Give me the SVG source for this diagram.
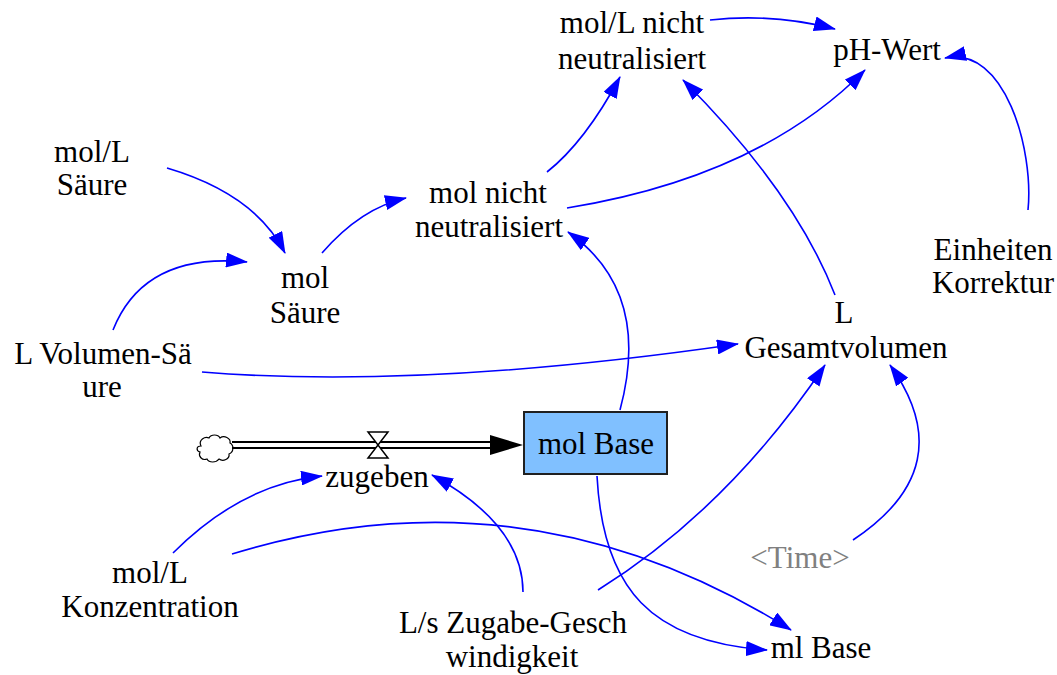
<svg xmlns="http://www.w3.org/2000/svg" width="1057" height="675" viewBox="0 0 1057 675">
  <style>
    .lbl { font-family: "Liberation Serif", "Times New Roman", "DejaVu Serif", serif; font-size: 31px; fill: #000; text-anchor: middle; }
    .shadow { fill: #808080; }
    .link { fill: none; stroke: #0000ff; stroke-width: 1.6; marker-end: url(#head); }
    .pipe { stroke: #000; stroke-width: 2; fill: none; }
  </style>
  <defs>
    <marker id="head" viewBox="0 0 22 15" markerWidth="22" markerHeight="15" refX="21" refY="7.5" orient="auto" markerUnits="userSpaceOnUse">
      <path d="M0,0 L22,7.5 L0,15 Z" fill="#0000ff"/>
    </marker>
  </defs>
  <rect width="1057" height="675" fill="#fff"/>

  <!-- causal links -->
  <g id="connectors">
    <path class="link" d="M710,20 Q773,13 835,29"/>
    <path class="link" d="M1028,210 C1034,150 1005,45 945,58"/>
    <path class="link" d="M547,172 Q585,142 620,77"/>
    <path class="link" d="M835,295 Q795,192 683,80"/>
    <path class="link" d="M567,208 Q759,177 865,70"/>
    <path class="link" d="M167,168 Q255,194 285,253"/>
    <path class="link" d="M113,330 Q144,252 247,262"/>
    <path class="link" d="M322,253 Q361,208 406,198"/>
    <path class="link" d="M620,410 Q652,291 568,232"/>
    <path class="link" d="M202,372 Q420,390 738,344"/>
    <path class="link" d="M173,553 Q242,484 322,476"/>
    <path class="link" d="M523,592 Q523,525 432,475"/>
    <path class="link" d="M232,554 Q526,464 791,630"/>
    <path class="link" d="M598,590 Q728,509 825,365"/>
    <path class="link" d="M853,540 Q963,467 890,365"/>
    <path class="link" d="M597,476 C603,590 652,642 767,650"/>
  </g>

  <!-- inflow pipe with valve -->
  <g id="flow-zugeben">
    <path id="source-cloud" d="M201,446 c-3,-6 4,-10 8,-8 c2,-4 9,-4 11,0 c4,-3 11,0 10,5 c4,2 4,9 -1,11 c1,5 -6,8 -10,5 c-3,4 -10,4 -12,0 c-5,2 -9,-3 -7,-7 c-4,-1 -4,-6 1,-6 z" fill="#fff" stroke="#000" stroke-width="1.2"/>
    <path class="pipe" d="M232,442 H492 M232,448 H492"/>
    <polygon points="490,435 523,445 490,455" fill="#000"/>
    <path d="M368,432 H388 L368,458 H388 Z" fill="#fff" stroke="#000" stroke-width="1.5"/>
    <text class="lbl" x="377" y="487">zugeben</text>
  </g>

  <g id="mol-base">
    <rect x="524" y="412" width="143" height="62" fill="#80c0ff" stroke="#202020" stroke-width="2"/>
    <text class="lbl" x="596" y="454">mol Base</text>
  </g>

  <g id="mol-l-nicht-neutralisiert">
    <text class="lbl" x="632" y="33">mol/L nicht</text>
    <text class="lbl" x="632" y="69">neutralisiert</text>
  </g>
  <g id="ph-wert">
    <text class="lbl" x="887" y="60">pH-Wert</text>
  </g>
  <g id="mol-l-saeure">
    <text class="lbl" x="92" y="162">mol/L</text>
    <text class="lbl" x="92" y="195">Säure</text>
  </g>
  <g id="mol-saeure">
    <text class="lbl" x="305" y="288">mol</text>
    <text class="lbl" x="305" y="323">Säure</text>
  </g>
  <g id="mol-nicht-neutralisiert">
    <text class="lbl" x="488" y="203">mol nicht</text>
    <text class="lbl" x="489" y="237">neutralisiert</text>
  </g>
  <g id="einheiten-korrektur">
    <text class="lbl" x="993" y="260">Einheiten</text>
    <text class="lbl" x="993" y="293">Korrektur</text>
  </g>
  <g id="l-gesamtvolumen">
    <text class="lbl" x="844" y="323">L</text>
    <text class="lbl" x="846" y="358">Gesamtvolumen</text>
  </g>
  <g id="l-volumen-saeure">
    <text class="lbl" x="103" y="364">L Volumen-Sä</text>
    <text class="lbl" x="102" y="397">ure</text>
  </g>
  <g id="mol-l-konzentration">
    <text class="lbl" x="150" y="583">mol/L</text>
    <text class="lbl" x="150" y="617">Konzentration</text>
  </g>
  <g id="ls-zugabe-geschwindigkeit">
    <text class="lbl" x="513" y="633">L/s Zugabe-Gesch</text>
    <text class="lbl" x="512" y="667">windigkeit</text>
  </g>
  <g id="time">
    <text class="lbl shadow" x="800" y="568">&lt;Time&gt;</text>
  </g>
  <g id="ml-base">
    <text class="lbl" x="821" y="658">ml Base</text>
  </g>
</svg>
